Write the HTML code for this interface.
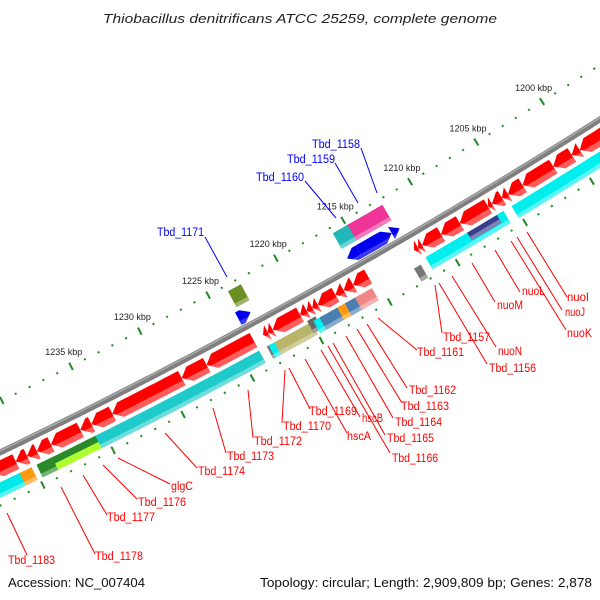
<!DOCTYPE html>
<html><head><meta charset="utf-8"><style>
html,body{margin:0;padding:0;background:#fff;}
svg{display:block;font-family:"Liberation Sans",sans-serif;}
</style></head><body>
<svg id="map" width="600" height="600" viewBox="0 0 600 600" xmlns="http://www.w3.org/2000/svg">
<rect width="600" height="600" fill="#fff"/>
<text x="300" y="23" text-anchor="middle" font-size="13" font-style="italic" fill="#222" textLength="394" lengthAdjust="spacingAndGlyphs">Thiobacillus denitrificans ATCC 25259, complete genome</text>
<text x="8" y="587" font-size="12.5" fill="#111" textLength="137" lengthAdjust="spacingAndGlyphs">Accession: NC_007404</text>
<text x="592" y="587" text-anchor="end" font-size="12.5" fill="#111" textLength="332" lengthAdjust="spacingAndGlyphs">Topology: circular; Length: 2,909,809 bp; Genes: 2,878</text>
<g id="layer"></g>
</svg>
<script>
// ---- data (kbp) ----
const tickStart = 1195;
const tickEnd = 1244;
const tickLabels = [1200, 1205, 1210, 1215, 1220, 1225, 1230, 1235];
const redStarts = [1196.5,1199.6,1200.2,1201.6,1203.9,1205.0,1205.45,1206.2,1206.5,1208.6,1210.0,1211.4,1211.7,
  1215.4,1216.5,1217.2,1217.8,1219.1,1219.5,1219.9,1220.4,1222.4,1222.75,
  1223.8,1227.2,1229.0,1234.0,1235.5,1236.3,1238.4,1239.4,1240.1,1240.9];
const redEnds = [1199.6,1200.2,1201.6,1203.9,1205.0,1205.45,1206.2,1206.5,1208.6,1210.0,1211.4,1211.7,1212.0,
  1216.5,1217.2,1217.8,1219.1,1219.5,1219.9,1220.4,1222.4,1222.75,1223.1,
  1227.2,1229.0,1234.0,1235.5,1236.3,1238.4,1239.4,1240.1,1240.9,1242.6];
const bandStarts = [1196.0,1205.8,1206.3,1212.1,1222.9,1222.35,1220.0,1219.6,1219.0,1217.9,1217.25,1216.45,1215.55,1223.8,1227.45,1234.25,1238.6,1235.6,1240.15,1241.0];
const bandEnds   = [1205.2,1211.6,1208.5,1212.6,1223.25,1223.1,1222.7,1220.2,1219.85,1219.4,1218.1,1217.55,1216.8,1227.5,1234.3,1235.8,1239.8,1238.7,1241.15,1243.5];
const bandColors = ["#00eeee","#00eeee","#3c3c8c","#777","#777","#00f0f0","#b8b46a","#666","#00f0f0","#4a7fb0","#ff9a10","#4a7fb0","#f08888","#1fcaca","#1fcaca","#1fcaca","#2a8a2a","#2a8a2a","#ff9a10","#00e8e8"];
const outerStarts = [1212.3,1214.9,1222.8];
const outerEnds   = [1215.1,1216.0,1223.75];
const outerColors = ["#ee3399","#20b8b8","#6b8e23"];
const blueStarts = [1215.1,1212.7,1212.1,1223.1];
const blueEnds   = [1216.0,1215.1,1212.7,1224.0];
const blueDirs   = [1,-1,-1,-1];
</script>
<script>
const NS = "http://www.w3.org/2000/svg";
const layer = document.getElementById('layer');
const CX = -2535, CY = -4822;
function ang(k){ return (59.52 + (k - 1210) * 0.1524) * Math.PI / 180; }
function P(k, r){ const a = ang(k); return [CX + r * Math.cos(a), CY + r * Math.sin(a)]; }
function arc(k0, k1, r){ const pts=[]; const n=Math.max(2,Math.ceil(Math.abs(k1-k0)*2)); for(let i=0;i<=n;i++){pts.push(P(k0+(k1-k0)*i/n,r));} return pts; }
function shape(k0,k1,ra,rb,dir,R0,R1){
  const head = dir ? Math.min(0.6, k1-k0) : 0;
  const rm=(R0+R1)/2, half=(R1-R0)/2;
  const edge = r => dir>0 ? k1 - head*Math.abs(r-rm)/half : k0 + head*Math.abs(r-rm)/half;
  let pts=[];
  if(dir>0){
    pts = pts.concat(arc(k0, edge(ra), ra));
    if(ra<rm && rm<rb) pts.push(P(k1,rm));
    pts = pts.concat(arc(edge(rb), k0, rb));
  } else if(dir<0){
    pts = pts.concat(arc(edge(ra), k1, ra));
    pts = pts.concat(arc(k1, edge(rb), rb));
    if(ra<rm && rm<rb) pts.push(P(k0,rm));
  } else {
    pts = pts.concat(arc(k0,k1,ra)).concat(arc(k1,k0,rb));
  }
  return pts.map(p=>p[0].toFixed(1)+','+p[1].toFixed(1)).join(' ');
}
function poly(pts, fill, name){
  const e=document.createElementNS(NS,'polygon');
  e.setAttribute('points',pts); e.setAttribute('fill',fill);
  
  
  layer.appendChild(e); return e;
}
function line(x1,y1,x2,y2,stroke,w,name){
  const e=document.createElementNS(NS,'line');
  e.setAttribute('x1',x1);e.setAttribute('y1',y1);e.setAttribute('x2',x2);e.setAttribute('y2',y2);
  e.setAttribute('stroke',stroke);e.setAttribute('stroke-width',w);
  
  
  layer.appendChild(e); return e;
}
function text(x,y,s,fill,size,name,anchor,len){
  const e=document.createElementNS(NS,'text');
  e.setAttribute('x',x);e.setAttribute('y',y);e.setAttribute('fill',fill);e.setAttribute('font-size',size);
  if(anchor) e.setAttribute('text-anchor',anchor);
  if(len){e.setAttribute('textLength',len);e.setAttribute('lengthAdjust','spacingAndGlyphs');}
  e.textContent=s;
  
  
  layer.appendChild(e); return e;
}
function lighten(hex){
  let h=hex.replace('#',''); if(h.length===3) h=h.split('').map(c=>c+c).join('');
  const v=[0,2,4].map(i=>parseInt(h.substr(i,2),16)).map(c=>Math.round(c+(255-c)*0.35));
  return 'rgb('+v.join(',')+')';
}
// backbone
const bb = arc(1190,1250,5852).map(p=>p[0].toFixed(1)+','+p[1].toFixed(1)).join(' ');
let pl=document.createElementNS(NS,'polyline');
pl.setAttribute('points',bb);pl.setAttribute('fill','none');pl.setAttribute('stroke','#7f7f7f');pl.setAttribute('stroke-width','6');


layer.appendChild(pl);
let pl2=document.createElementNS(NS,'polyline');
pl2.setAttribute('points',arc(1190,1250,5850.5).map(p=>p[0].toFixed(1)+','+p[1].toFixed(1)).join(' '));
pl2.setAttribute('fill','none');pl2.setAttribute('stroke','#aaaaaa');pl2.setAttribute('stroke-width','1.5');


layer.appendChild(pl2);
// ticks
for(let k=tickStart;k<=tickEnd;k++){
  const major = (k%5===0);
  [5806,5900].forEach(r=>{
    const d = major?4:1;
    const a=P(k,r-d), b=P(k,r+d);
    line(a[0].toFixed(1),a[1].toFixed(1),b[0].toFixed(1),b[1].toFixed(1),'#1f8a1f',2, major?'major-tick':'minor-tick');
  });
}
tickLabels.forEach(k=>{
  const p=P(k,5790);
  text(p[0].toFixed(1),(p[1]+3).toFixed(1),k+' kbp','#222',9,'tick-label','middle');
});
// red CDS
for(let i=0;i<redStarts.length;i++){
  poly(shape(redStarts[i],redEnds[i],5859,5875,1,5859,5875),'#ff0000','cds-arrow');
  poly(shape(redStarts[i],redEnds[i],5869.5,5875,1,5859,5875),'#ff5c5c','cds-arrow-shade');
}
// lower band features
for(let i=0;i<bandStarts.length;i++){
  let r0=5879,r1=5893;
  if(i===2){r0=5879;r1=5888;}
  if(i===3){r0=5883;r1=5898;}
  if(i===7){r0=5876;r1=5890;}
  if(i===17){r0=5879;r1=5886;}
  poly(shape(bandStarts[i],bandEnds[i],r0,r1,0,r0,r1),bandColors[i],'gene-feature');
  if(i!==17) poly(shape(bandStarts[i],bandEnds[i],r1-4,r1,0,r0,r1),lighten(bandColors[i]),'gene-feature-shade');
  if(i===17){ poly(shape(bandStarts[i],bandEnds[i],5886,5893,0,5886,5893),'#adff2f','gene-feature-lower'); }
}
// outer features
for(let i=0;i<outerStarts.length;i++){
  poly(shape(outerStarts[i],outerEnds[i],5812,5830,0,5812,5830),outerColors[i],'outer-feature');
  poly(shape(outerStarts[i],outerEnds[i],5826,5830,0,5812,5830),lighten(outerColors[i]),'outer-feature-shade');
}
for(let i=0;i<blueStarts.length;i++){
  poly(shape(blueStarts[i],blueEnds[i],5834,5848,blueDirs[i],5834,5848),'#0000ee','blue-arrow');
  poly(shape(blueStarts[i],blueEnds[i],5844,5848,blueDirs[i],5834,5848),'#3a3aff','blue-arrow-shade');
}
// labels: [text, x, y(center), width, lineX1, lineY1, lineX2, lineY2]
const redLabels = [
 ["nuoI",567,297,22,527,232,567,297],["nuoJ",565,312,20,517,237,562,310],["nuoK",567,333,25,511,241,566,330],
 ["nuoL",522,291,23,495,250,520,292],["nuoM",497,305,26,472,263,495,302],["nuoN",498,351,24,452,276,496,347],
 ["Tbd_1156",489,368,47,439,283,487,364],["Tbd_1157",443,337,47,435,285,442,333],["Tbd_1161",417,352,47,378,318,417,350],
 ["Tbd_1162",409,390,47,367,324,407,388],["Tbd_1163",401,406,48,357,329,402,403],["Tbd_1164",395,422,47,346,336,393,418],
 ["Tbd_1165",387,438,47,333,343,385,435],["Tbd_1166",392,458,46,328,346,390,453],["hscB",362,418,21,321,350,360,417],
 ["hscA",347,436,24,305,359,347,433],["Tbd_1169",309,411,48,289,368,310,409],["Tbd_1170",283,426,48,285,370,282,423],
 ["Tbd_1172",254,441,48,248,390,253,438],["Tbd_1173",227,456,47,213,408,226,453],["Tbd_1174",198,471,47,165,433,197,468],
 ["glgC",171,486,22,118,458,170,484],["Tbd_1176",138,502,48,103,465,137,499],["Tbd_1177",107,517,48,83,475,107,515],
 ["Tbd_1178",95,556,48,61,487,95,554],["Tbd_1183",8,560,47,7,513,27,555]
];
const blueLabels = [
 ["Tbd_1158",312,144,48,361,148,377,193],["Tbd_1159",287,159,48,335,163,358,203],
 ["Tbd_1160",256,177,48,305,181,336,218],["Tbd_1171",157,232,47,205,237,227,277]
];
redLabels.forEach(l=>{ line(l[4],l[5],l[6],l[7],'#ff0000',1,'leader-line'); });
blueLabels.forEach(l=>{ line(l[4],l[5],l[6],l[7],'#0000ff',1,'leader-line'); });
redLabels.forEach(l=>{ text(l[1],l[2]+4,l[0],'#ff0000',11.5,'gene-label',null,l[3]); });
blueLabels.forEach(l=>{ text(l[1],l[2]+4,l[0],'#0000ff',11.5,'gene-label',null,l[3]); });
</script>
</body></html>
